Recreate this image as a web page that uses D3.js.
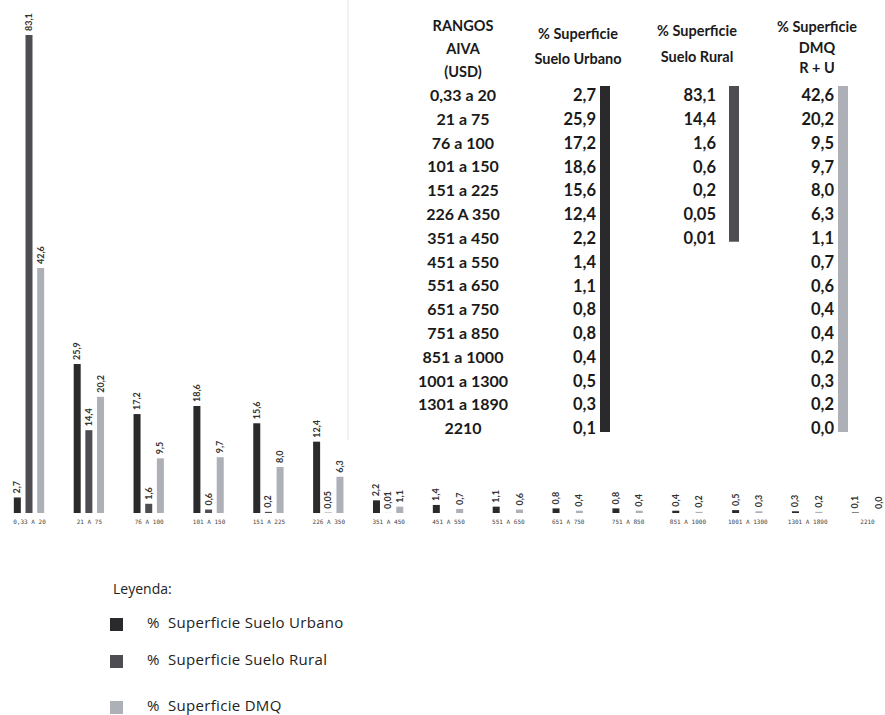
<!DOCTYPE html>
<html>
<head>
<meta charset="utf-8">
<script src="https://cdn.jsdelivr.net/npm/d3@7"></script>
<style>
  html, body { margin: 0; padding: 0; background: #fff; }
  svg { display: block; }
</style>
</head>
<body>
<div id="chart"></div>
<script>
// ---- Data ----
const ranges = ["0,33 a 20","21 a 75","76 a 100","101 a 150","151 a 225","226 A 350","351 a 450","451 a 550","551 a 650","651 a 750","751 a 850","851 a 1000","1001 a 1300","1301 a 1890","2210"];
const urbano = [2.7, 25.9, 17.2, 18.6, 15.6, 12.4, 2.2, 1.4, 1.1, 0.8, 0.8, 0.4, 0.5, 0.3, 0.1];
const rural  = [83.1, 14.4, 1.6, 0.6, 0.2, 0.05, 0.01, null, null, null, null, null, null, null, null];
const dmq    = [42.6, 20.2, 9.5, 9.7, 8.0, 6.3, 1.1, 0.7, 0.6, 0.4, 0.4, 0.2, 0.3, 0.2, 0.0];
const seriesNames = ["%  Superficie Suelo Urbano", "%  Superficie Suelo Rural", "%  Superficie DMQ"];
const colors = ["#2a2a2c", "#4d4d52", "#aeb0b8"];
const tableHeaders = [
  ["RANGOS", "AIVA", "(USD)"],
  ["% Superficie", "Suelo Urbano"],
  ["% Superficie", "Suelo Rural"],
  ["% Superficie", "DMQ", "R + U"]
];

const W = 885, H = 715;
const svg = d3.select("#chart").append("svg").attr("width", W).attr("height", H);

const loc = d3.formatLocale({decimal: ",", thousands: ".", grouping: [3], currency: ["", ""]});
const f1 = loc.format(".1f"), f2 = loc.format(".2f");
const fmt = v => (v > 0 && v < 0.1) ? f2(v) : f1(v);

// faint scan line
svg.append("line").attr("x1", 348).attr("x2", 348).attr("y1", 0).attr("y2", 440)
  .attr("stroke", "#e4e4e4").attr("stroke-width", 1);

// ---- Bar chart ----
const series = [urbano, rural, dmq];
const x0 = d3.scalePoint().domain(d3.range(ranges.length)).range([29, 867]);
const x1 = d3.scaleBand().domain([0, 1, 2]).range([-17.5, 17.5]).paddingInner(0.4).paddingOuter(0.2);
const y = d3.scaleLinear().domain([0, 83.1]).range([513, 35]);

const groups = svg.append("g").selectAll("g").data(ranges).join("g")
  .attr("transform", (d, i) => `translate(${x0(i)},0)`);

groups.each(function(d, i) {
  const g = d3.select(this);
  series.forEach((s, k) => {
    const v = s[i];
    if (v === null || v === undefined) return;
    const bx = x1(k);
    g.append("rect")
      .attr("x", bx).attr("width", x1.bandwidth())
      .attr("y", y(v)).attr("height", Math.max(0, y(0) - y(v)))
      .attr("fill", colors[k]);
    const lx = bx + x1.bandwidth() / 2;
    const ly = y(v) - 4;
    g.append("text")
      .attr("transform", `translate(${lx + 3},${ly}) rotate(-90)`)
      .attr("font-family", "Lato, 'DejaVu Sans', sans-serif")
      .attr("font-weight", "bold")
      .attr("font-size", 9)
      .attr("fill", "#333")
      .text(fmt(v));
  });
});

// axis labels
const xAxis = d3.axisBottom(x0).tickSize(0).tickPadding(0)
  .tickFormat(i => ranges[i].replace(" a ", " A "));
const axg = svg.append("g").attr("transform", "translate(0,520)").call(xAxis);
axg.select(".domain").remove();
axg.selectAll("text")
  .attr("font-family", "'DejaVu Sans Mono', monospace")
  .attr("font-size", 6)
  .attr("fill", "#444")
  .attr("dy", "0.71em");

// ---- Table ----
const tfont = "Lato, 'Open Sans', sans-serif";
const colX = [463, 578, 697, 817];
const headerY = [[27, 50, 73], [35, 60], [32, 58], [28, 49, 69]];
tableHeaders.forEach((lines, c) => {
  lines.forEach((t, j) => {
    svg.append("text").attr("x", colX[c]).attr("y", headerY[c][j])
      .attr("text-anchor", "middle").attr("dominant-baseline", "middle")
      .attr("font-family", tfont).attr("font-weight", "bold")
      .attr("font-size", 14.5).attr("fill", "#1a1a1a").text(t);
  });
});

const rowY = d3.scalePoint().domain(d3.range(ranges.length)).range([97, 430]);
svg.append("g").selectAll("text").data(ranges).join("text")
  .attr("x", colX[0]).attr("y", (d, i) => rowY(i))
  .attr("text-anchor", "middle").attr("dominant-baseline", "middle")
  .attr("font-family", tfont).attr("font-weight", "bold")
  .attr("font-size", 16).attr("fill", "#1a1a1a").text(d => d);

const numRight = [596, 716, 834];
const stripeX = [600, 729, 838];
series.forEach((s, k) => {
  const valid = s.map((v, i) => [v, i]).filter(d => d[0] !== null);
  svg.append("g").selectAll("text").data(valid).join("text")
    .attr("x", numRight[k]).attr("y", d => rowY(d[1]))
    .attr("text-anchor", "end").attr("dominant-baseline", "middle")
    .attr("font-family", tfont).attr("font-weight", "bold")
    .attr("font-size", 16.5).attr("fill", "#1a1a1a").text(d => fmt(d[0]));
  const last = valid[valid.length - 1][1];
  svg.append("rect")
    .attr("x", stripeX[k]).attr("width", 10)
    .attr("y", rowY(0) - 11).attr("height", rowY(last) - rowY(0) + 13)
    .attr("fill", colors[k]);
});

// ---- Legend ----
const lfont = "'Open Sans', 'Noto Sans', sans-serif";
svg.append("text").attr("x", 113).attr("y", 590).attr("dominant-baseline", "middle")
  .attr("font-family", lfont).attr("font-size", 14).attr("fill", "#222").text("Leyenda:");
const legY = [624, 661, 707];
seriesNames.forEach((n, k) => {
  svg.append("rect").attr("x", 110).attr("y", legY[k] - 6).attr("width", 13).attr("height", 13)
    .attr("fill", colors[k]);
  svg.append("text").attr("x", 147).attr("y", legY[k]).attr("dominant-baseline", "middle")
    .attr("font-family", lfont).attr("font-size", 15).attr("letter-spacing", 0.3)
    .attr("fill", "#222").style("white-space", "pre").text(n);
});
</script>
</body>
</html>
